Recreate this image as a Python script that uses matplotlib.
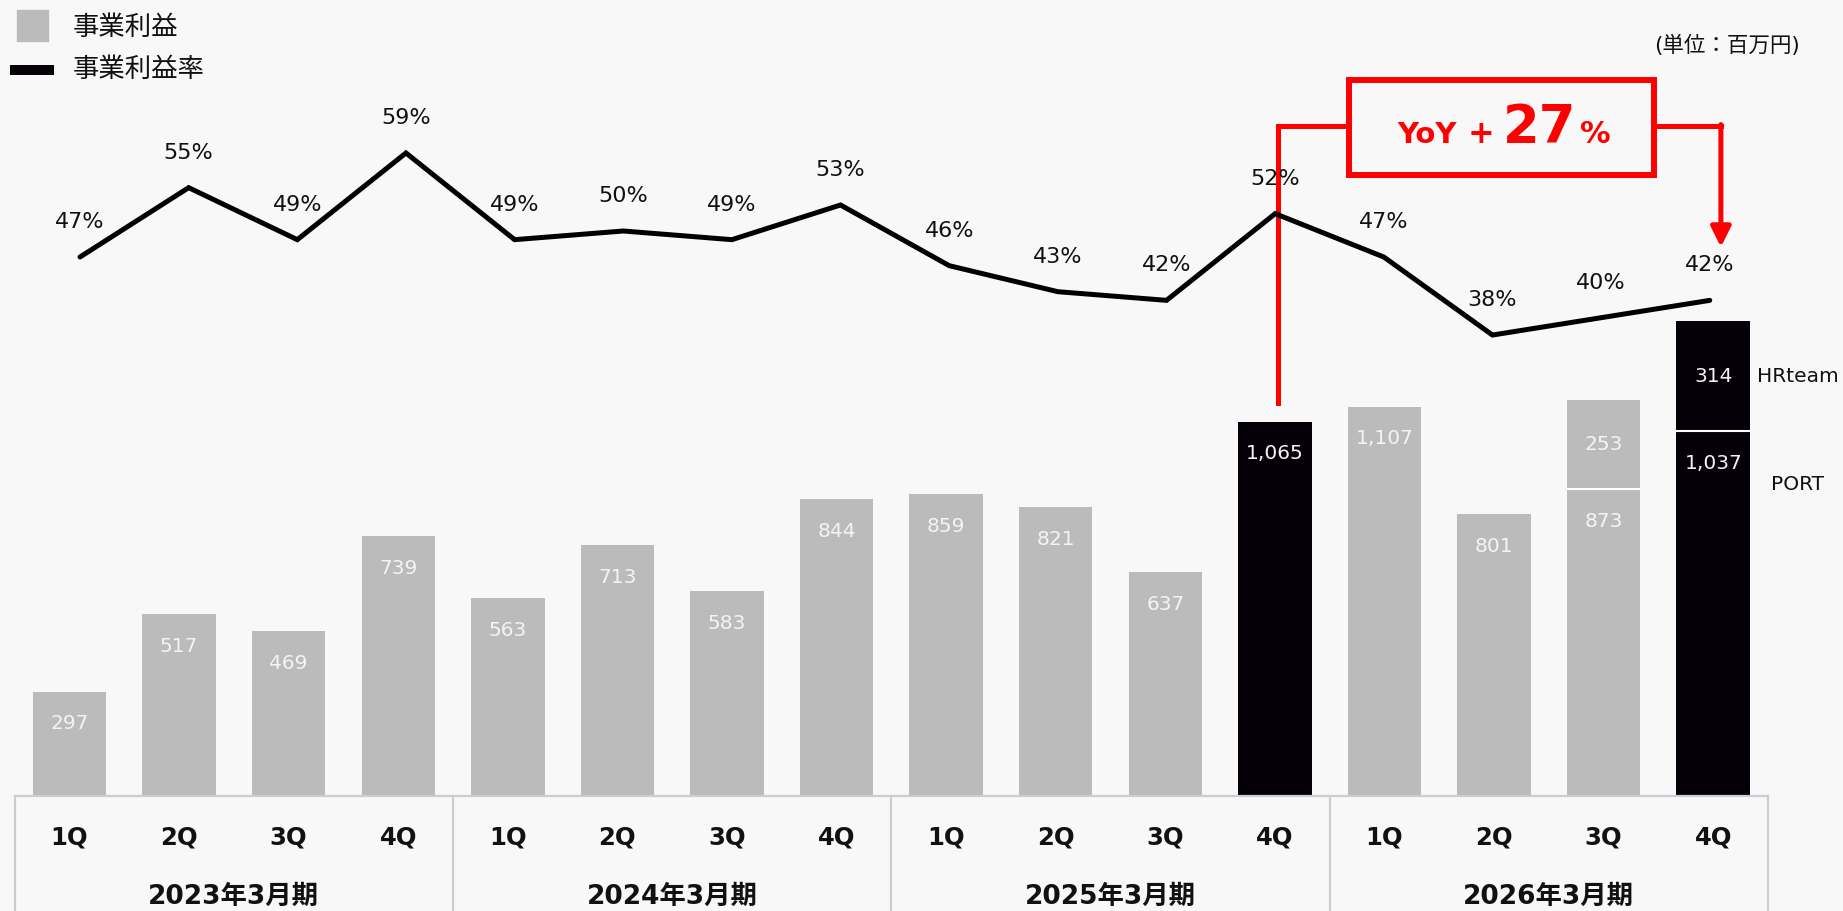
import matplotlib
matplotlib.use('Agg')
import matplotlib.pyplot as plt
from matplotlib.patches import Rectangle
from matplotlib.lines import Line2D

plt.rcParams['font.family'] = ['DejaVu Sans', 'Noto Sans CJK JP']

# 事業利益 (百万円) and 事業利益率 (%) by quarter
quarters = ['1Q', '2Q', '3Q', '4Q'] * 4
years = ['2023年3月期', '2024年3月期', '2025年3月期', '2026年3月期']
profit = [297, 517, 469, 739, 563, 713, 583, 844, 859, 821, 637, 1065, 1107, 801, 873, 1037]
margin = [47, 55, 49, 59, 49, 50, 49, 53, 46, 43, 42, 52, 47, 38, 40, 42]
highlight = [11, 15]
# stacked extras on top of the base bars: (index, value)
extra = [(14, 253), (15, 314)]
yoy_pct = 27

W, H = 1843, 911
GRAY = '#BBBBBB'
BLACK = '#050008'
BG = '#F8F8F8'
RED = '#FF0000'
TXT = '#111111'


def fx(px):
    return px / W


def fy(py):
    return 1 - py / H


fig = plt.figure(figsize=(W / 100, H / 100), dpi=100, facecolor=BG)
ax = fig.add_axes([fx(14.7), fy(796), (1768 - 14.7) / W, 736 / H])
ax.set_facecolor('none')
ax2 = ax.twinx()
ax2.set_position(ax.get_position())

x = list(range(len(profit)))
colors = [BLACK if i in highlight else GRAY for i in x]
bw = 0.67
ax.bar(x, profit, width=bw, color=colors, zorder=2)
for i, v in extra:
    ax.bar(i, v, bottom=profit[i], width=bw, color=colors[i], zorder=2)
    ax.hlines(profit[i], i - bw / 2, i + bw / 2, color='white', lw=1.5, zorder=3)
    ax.text(i, profit[i] + v / 2, f'{v:,}', ha='center', va='center',
            color='#F4F4F4', fontsize=14.5, zorder=4)

for i, v in zip(x, profit):
    ax.annotate(f'{v:,}', (i, v), xytext=(0, -32), textcoords='offset pixels',
                ha='center', va='center', color='#F4F4F4', fontsize=14.5, zorder=4)

ax.set_xlim(-0.5, 15.5)
ax.set_ylim(0, 736 / 0.3515)
ax.axis('off')

# margin line on its own scale; its points run a little tighter than the bars
xl = [0.096 + 0.9915 * i for i in x]
ax2.plot(xl, margin, color='black', lw=3.6, zorder=3,
         solid_joinstyle='miter', solid_capstyle='round')
for i, m in zip(xl, margin):
    ax2.annotate(f'{m}%', (i, m), xytext=(0, 35), textcoords='offset pixels',
                 ha='center', va='center', fontsize=16, color=TXT)
ax2.set_ylim((664.5 - 796) / 8.67, (664.5 - 60) / 8.67)
ax2.set_xlim(-0.5, 15.5)
ax2.axis('off')

# segment names for the last bar
ax.text(15.77, profit[15] + extra[1][1] / 2, 'HRteam', ha='center', va='center',
        fontsize=14.5, color=TXT, clip_on=False)
ax.text(15.77, 885, 'PORT', ha='center', va='center', fontsize=14.5,
        color=TXT, clip_on=False)

# category table under the bars
tcol = '#CACDD4'
xt = ax.get_xaxis_transform()
ax.plot([-0.5, 15.5], [0, 0], color=tcol, lw=1.6, transform=xt, clip_on=False)
for k in range(5):
    ax.plot([-0.5 + 4 * k] * 2, [0, -0.2], color=tcol, lw=1.6,
            transform=xt, clip_on=False)
for i, q in zip(x, quarters):
    ax.text(i, -42 / 736, q, ha='center', va='center', fontsize=17.5,
            fontweight='bold', color=TXT, transform=xt)
for k, yr in enumerate(years):
    ax.text(4 * k + 1.5, -101 / 736, yr, ha='center', va='center', fontsize=19,
            fontweight='bold', color=TXT, transform=xt)

# legend
fig.patches.append(Rectangle((fx(17), fy(41)), 31 / W, 31 / H, color=GRAY,
                             transform=fig.transFigure))
fig.lines.append(Line2D([fx(10), fx(54)], [fy(70), fy(70)], color=BLACK, lw=7.2,
                        solid_capstyle='butt', transform=fig.transFigure))
fig.text(fx(73), fy(28), '事業利益', va='center', fontsize=19, color=TXT)
fig.text(fx(73), fy(70), '事業利益率', va='center', fontsize=19, color=TXT)
fig.text(fx(1800), fy(45), '(単位：百万円)', ha='right', va='center',
         fontsize=15.5, color=TXT)


# YoY callout
def ydat(py):
    return (796 - py) / 0.3515


def xdat(px):
    return (px - 69.5) / 109.6


box_l, box_r = xdat(1349), xdat(1654)
ax.add_patch(Rectangle((box_l, ydat(175)), box_r - box_l, ydat(80) - ydat(175),
                       fill=False, edgecolor=RED, lw=4.3, zorder=6, clip_on=False))
ylink = ydat(126)
ax.plot([11.03, 11.03, box_l], [ydat(403), ylink, ylink], color=RED, lw=3.6,
        zorder=6, clip_on=False, solid_joinstyle='miter')
xr = 15.07
ax.plot([box_r, xr], [ylink, ylink], color=RED, lw=3.6, zorder=6, clip_on=False)
ax.annotate('', xy=(xr, ydat(247)), xytext=(xr, ylink + 4),
            arrowprops=dict(arrowstyle='-|>', color=RED, lw=3.6, mutation_scale=30,
                            shrinkA=0, shrinkB=0), zorder=6)
fig.text(fx(1397), fy(143), 'YoY', color=RED, fontsize=21, fontweight='bold', va='baseline')
fig.text(fx(1468), fy(143), '+', color=RED, fontsize=23, fontweight='bold', va='baseline')
fig.text(fx(1503), fy(143), f'{yoy_pct}', color=RED, fontsize=38, fontweight='bold', va='baseline')
fig.text(fx(1580), fy(143), '%', color=RED, fontsize=22, fontweight='bold', va='baseline')

fig.savefig('out.png', dpi=100, facecolor=BG)
